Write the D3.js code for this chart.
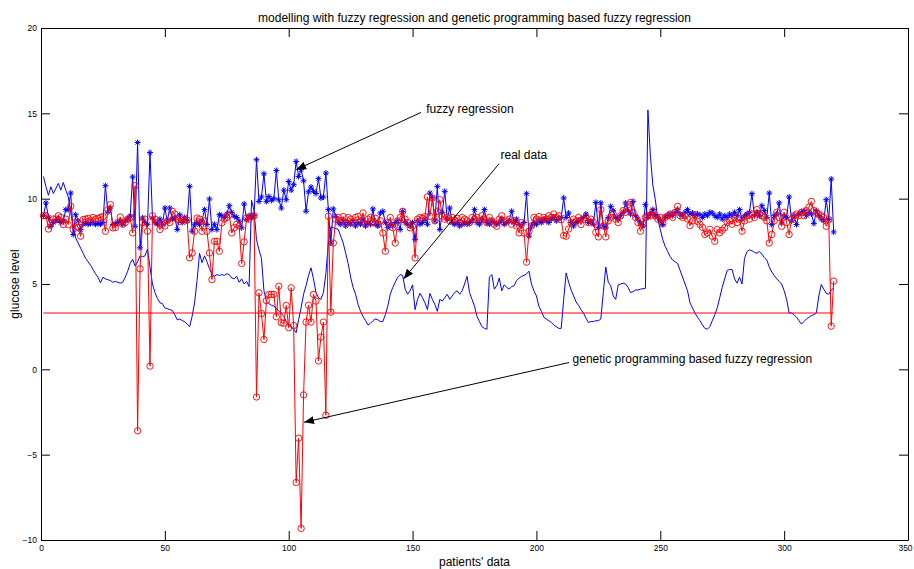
<!DOCTYPE html>
<html>
<head>
<meta charset="utf-8">
<script src="https://cdn.jsdelivr.net/npm/d3@7"></script>
<style>
  body { margin: 0; background: #fff; }
  text { font-family: "Liberation Sans", Arial, Helvetica, sans-serif; }
</style>
</head>
<body>
<svg id="chart" width="914" height="569"></svg>
<script>
// patient index 1..320
const patients = d3.range(1, 321);

// real glucose level (plain blue line)
const realData = [
  11.3, 10.7, 10.2, 10.7, 10.3, 10.6, 10.9, 10.5, 10.95, 10.5,
  10.1, 9.2, 8.4, 7.7, 7.4, 7.1, 6.8, 6.5, 6.3, 6.1,
  5.85, 5.6, 5.4, 5.07, 5.4, 5.3, 5.25, 5.2, 5.1, 5.15,
  5.1, 5.05, 5.1, 5.4, 5.75, 6.2, 6.45, 6.05, 6.3, 6.65,
  6.6, 6.65, 7.05, 6.0, 5.0, 4.5, 4.15, 3.9, 3.85, 3.6,
  3.55, 3.5, 3.45, 3.2, 2.9, 2.95, 2.85, 2.8, 2.65, 2.5,
  3.1, 3.9, 5.2, 6.8, 6.25, 6.65, 6.3, 5.9, 5.6, 5.45,
  5.55, 5.5, 5.55, 5.5, 5.6, 5.55, 5.35, 5.3, 5.45, 5.1,
  5.3, 5.0, 5.15, 4.85, 9.9, 9.3, 7.6, 7.0, 6.5, 4.6,
  4.0, 3.85, 3.75, 3.7, 3.6, 3.4, 3.3, 3.1, 2.8, 2.6,
  2.5, 2.35, 2.15, 2.9, 3.6, 4.4, 4.9, 5.5, 5.95, 5.3,
  4.5, 4.2, 4.1, 4.5, 5.6, 7.4, 8.35, 8.3, 8.25, 8.2,
  7.8, 7.4, 6.8, 6.2, 5.4, 4.8, 4.4, 3.8, 3.4, 3.1,
  2.85, 2.6, 2.7, 2.85, 2.95, 2.9, 2.8, 2.8, 3.2, 3.7,
  4.4, 4.8, 5.1, 5.4, 5.55, 5.5, 4.7, 4.4, 4.6, 4.95,
  3.5, 4.1, 4.45, 4.2, 3.9, 3.5, 4.45, 4.1, 3.8, 3.4,
  4.1, 4.0, 4.2, 4.4, 4.1, 4.3, 4.5, 4.6, 4.4, 4.6,
  5.0, 5.45, 4.5, 4.1, 3.7, 3.1, 2.8, 2.5, 2.4, 2.35,
  5.4, 5.55, 4.7, 4.9, 5.35, 4.6, 4.95, 4.8, 4.7, 4.85,
  4.9, 5.2, 5.35, 5.45, 5.5, 5.6, 5.75, 5.0, 4.6, 4.3,
  3.7, 3.4, 3.05, 2.95, 2.85, 2.75, 2.6, 2.5, 2.4, 2.4,
  4.1, 5.65, 5.1, 4.65, 4.3, 3.95, 3.75, 3.5, 3.3, 3.0,
  2.75, 2.8, 2.8, 2.85, 2.85, 2.95, 4.5, 6.0, 5.1, 4.9,
  4.3, 4.1, 4.95, 5.0, 5.05, 5.0, 4.8, 4.5, 4.55, 4.65,
  4.65, 4.7, 4.72, 4.75, 15.2, 12.5, 10.8, 9.94, 8.8, 8.2,
  7.6, 7.2, 6.9, 6.6, 6.4, 6.3, 6.2, 5.8, 5.4, 5.0,
  4.6, 3.9, 3.6, 3.3, 3.05, 2.85, 2.6, 2.4, 2.35, 2.5,
  2.85, 3.2, 3.6, 4.2, 4.8, 5.3, 5.8, 5.85, 5.85, 5.3,
  5.05, 5.4, 5.0, 6.5, 6.9, 7.0, 6.95, 6.85, 6.8, 6.9,
  6.75, 6.55, 6.4, 6.0, 5.7, 5.5, 5.3, 5.15, 5.0, 4.6,
  4.1, 3.3, 3.3, 3.2, 3.05, 2.85, 2.65, 2.8, 2.95, 3.05,
  3.15, 3.2, 3.3, 4.3, 4.97, 4.7, 4.45, 4.4, 4.65, 4.75
];

// fuzzy regression (blue, * markers)
const fuzzyData = [
  9.0, 9.75, 8.9, 8.38, 8.6, 8.7, 8.8, 8.6, 8.7, 9.36,
  9.36, 10.33, 7.9, 9.06, 8.7, 8.19, 8.5, 8.6, 8.5, 8.55,
  8.6, 8.5, 8.55, 8.5, 8.6, 10.76, 9.2, 9.45, 8.48, 8.5,
  8.6, 8.7, 8.5, 8.7, 8.8, 8.97, 11.27, 8.38, 13.29, 7.12,
  8.87, 8.6, 8.5, 12.7, 8.87, 8.6, 8.5, 8.8, 8.5, 9.45,
  8.7, 9.45, 8.8, 8.9, 8.19, 9.06, 8.6, 8.9, 8.7, 10.72,
  8.09, 8.5, 8.6, 8.48, 8.7, 9.36, 8.48, 9.98, 8.19, 8.5,
  8.19, 9.06, 9.0, 8.9, 9.1, 9.59, 9.2, 8.97, 8.9, 8.68,
  8.29, 9.69, 8.77, 9.0, 8.9, 9.0, 12.28, 9.84, 10.1, 11.46,
  9.84, 10.13, 9.9, 10.0, 11.65, 9.94, 9.45, 10.5, 9.94, 11.01,
  10.5, 10.82, 12.18, 11.3, 11.7, 11.05, 9.26, 10.4, 10.68, 10.43,
  10.3, 11.17, 10.04, 10.1, 11.5, 9.36, 7.4, 9.4, 8.97, 8.6,
  8.5, 8.7, 8.4, 8.6, 8.5, 8.7, 8.4, 8.6, 8.5, 8.8,
  8.4, 8.6, 8.5, 9.4, 8.5, 8.4, 9.16, 9.26, 8.6, 8.3,
  8.5, 8.4, 8.6, 8.7, 8.19, 9.26, 8.6, 8.5, 8.4, 8.6,
  7.6, 8.7, 8.5, 8.6, 8.8, 8.5, 10.33, 10.04, 8.7, 10.72,
  8.19, 9.2, 10.43, 8.8, 9.45, 8.6, 8.5, 8.6, 8.4, 8.5,
  8.6, 8.5, 8.6, 8.7, 9.36, 8.6, 8.5, 8.7, 9.36, 8.6,
  8.5, 8.7, 8.6, 8.5, 8.6, 8.8, 8.5, 8.6, 8.7, 9.26,
  8.6, 8.8, 8.5, 8.4, 8.6, 10.29, 7.8, 8.4, 8.6, 8.5,
  8.7, 8.6, 8.8, 8.7, 8.6, 8.8, 8.9, 8.7, 8.8, 8.9,
  10.04, 8.9, 9.16, 8.6, 8.4, 8.6, 8.7, 8.8, 8.9, 9.1,
  8.6, 8.7, 8.5, 9.78, 8.29, 9.75, 8.4, 8.3, 8.9, 9.55,
  9.3, 8.9, 8.8, 9.0, 9.2, 9.75, 9.3, 9.1, 9.84, 9.0,
  8.8, 8.58, 8.4, 9.65, 8.9, 9.1, 9.36, 9.0, 8.9, 8.7,
  8.48, 8.9, 9.0, 9.1, 9.0, 9.2, 9.36, 9.1, 9.0, 9.2,
  9.36, 9.1, 9.16, 9.0, 9.1, 9.06, 8.9, 9.1, 9.0, 9.2,
  9.16, 9.0, 8.9, 9.1, 8.8, 9.0, 8.9, 9.1, 9.0, 9.2,
  9.0, 9.36, 8.8, 9.0, 9.1, 9.2, 10.29, 9.0, 9.2, 9.0,
  9.59, 9.3, 8.9, 10.33, 8.48, 9.0, 9.1, 9.75, 8.58, 9.0,
  8.9, 10.1, 8.7, 9.0, 8.48, 9.1, 9.2, 9.3, 9.0, 9.2,
  9.1, 8.54, 9.3, 9.0, 8.8, 8.7, 9.94, 8.77, 11.15, 8.05
];

// genetic programming based fuzzy regression (red, o markers)
const gpData = [
  9.0, 9.0, 8.22, 8.6, 8.81, 8.8, 9.0, 8.9, 8.48, 8.8,
  8.48, 9.55, 8.19, 8.6, 8.3, 7.8, 8.77, 8.8, 8.85, 8.7,
  8.9, 8.8, 8.85, 8.9, 8.95, 8.09, 9.36, 9.65, 8.29, 8.3,
  8.6, 8.93, 8.5, 8.6, 8.8, 8.9, 7.99, 10.76, -3.6, 5.89,
  8.6, 8.8, 8.09, 0.19, 9.0, 8.8, 8.6, 8.19, 8.5, 8.4,
  8.7, 8.6, 9.26, 9.1, 8.8, 8.67, 8.8, 8.7, 8.75, 6.53,
  6.82, 8.09, 8.87, 8.8, 8.09, 8.7, 8.09, 6.82, 5.26, 7.5,
  7.5, 6.92, 8.58, 8.8, 8.9, 9.06, 7.99, 8.3, 8.5, 8.4,
  6.2, 7.47, 8.87, 8.8, 8.97, 9.0, -1.62, 4.48, 3.27, 1.75,
  4.03, 4.39, 4.39, 4.39, 3.08, 4.87, 2.73, 2.7, 3.74, 2.44,
  4.78, 2.57, -6.63, -4.04, -9.32, -1.5, 2.77, 3.76, 2.77, 4.39,
  4.0, 0.49, 1.89, 2.77, -2.69, 8.97, 3.35, 7.4, 8.8, 8.9,
  8.7, 8.95, 8.6, 8.9, 8.8, 8.6, 8.9, 8.95, 8.7, 9.16,
  8.5, 8.8, 8.9, 8.6, 8.85, 8.5, 8.7, 7.99, 6.92, 8.6,
  8.9, 8.3, 7.4, 8.7, 8.9, 9.26, 8.8, 8.6, 8.29, 8.4,
  6.53, 8.8, 8.9, 8.85, 8.95, 10.1, 8.97, 10.04, 8.7, 9.26,
  9.94, 8.97, 8.8, 8.9, 8.7, 8.9, 8.75, 8.85, 8.6, 8.9,
  8.8, 8.7, 8.6, 8.9, 8.8, 8.9, 8.7, 9.0, 8.8, 8.6,
  8.9, 8.7, 8.5, 8.38, 8.8, 9.0, 8.6, 8.7, 8.8, 8.5,
  8.7, 8.4, 7.99, 8.6, 7.99, 6.28, 8.09, 8.4, 8.9, 8.8,
  8.95, 8.7, 8.9, 8.8, 9.0, 8.9, 9.1, 8.9, 9.0, 8.77,
  7.84, 7.8, 8.22, 8.6, 8.8, 8.7, 8.9, 8.48, 8.8, 8.9,
  8.6, 8.8, 8.6, 8.03, 7.76, 9.36, 8.4, 7.76, 8.7, 8.9,
  9.1, 8.8, 8.6, 9.0, 9.3, 9.2, 9.65, 9.78, 9.2, 8.9,
  8.6, 8.09, 8.5, 8.9, 9.0, 9.0, 9.26, 9.0, 8.8, 8.9,
  8.54, 8.9, 9.0, 9.1, 8.9, 9.2, 9.55, 9.0, 8.9, 9.0,
  8.8, 8.42, 8.7, 9.06, 8.67, 8.5, 8.32, 7.9, 7.99, 8.2,
  7.8, 7.5, 8.19, 8.0, 8.15, 8.3, 8.6, 8.7, 8.5, 8.9,
  8.6, 8.8, 8.09, 8.7, 9.0, 8.8, 9.1, 8.9, 9.36, 9.1,
  9.0, 8.9, 8.7, 7.4, 7.9, 8.7, 9.2, 8.9, 8.38, 9.2,
  8.6, 7.9, 8.8, 9.0, 9.1, 9.0, 9.2, 9.0, 9.3, 9.5,
  9.84, 9.3, 9.2, 9.1, 9.0, 8.9, 8.38, 8.77, 2.53, 5.17
];

// constant red level
const gpLevel = 3.3;

const xTicks = [0, 50, 100, 150, 200, 250, 300, 350];
const yTicks = [-10, -5, 0, 5, 10, 15, 20];

// annotations, in data units: label position and arrow from -> to
const notes = [
  { label: "fuzzy regression", lx: 155.5, ly: 15.0, fx: 153.4, fy: 15.05, tx: 103.0, ty: 11.7 },
  { label: "real data", lx: 185.5, ly: 12.3, fx: 184.9, fy: 12.05, tx: 146.4, ty: 5.3 },
  { label: "genetic programming based fuzzy regression", lx: 214.6, ly: 0.4, fx: 213.2, fy: 0.4, tx: 106.2, ty: -3.1 }
];

const W = 914, H = 569;
const margin = { top: 28, right: 6, bottom: 29, left: 41 };

const svg = d3.select('#chart');

const x = d3.scaleLinear().domain([0, 350]).range([margin.left, W - margin.right]);
const y = d3.scaleLinear().domain([-10, 20]).range([H - margin.bottom, margin.top]);

svg.append('defs').append('marker')
    .attr('id', 'head')
    .attr('markerUnits', 'userSpaceOnUse')
    .attr('viewBox', '0 0 10 8')
    .attr('refX', 10).attr('refY', 4)
    .attr('markerWidth', 10).attr('markerHeight', 8)
    .attr('orient', 'auto')
    .append('path')
    .attr('d', 'M0,0L10,4L0,8Z')
    .attr('fill', '#000');

const plot = svg.append('g');

// real data
plot.append('path')
    .datum(realData)
    .attr('fill', 'none')
    .attr('stroke', '#0000ff')
    .attr('stroke-width', 1)
    .attr('d', d3.line().x((d, i) => x(patients[i])).y(d => y(d)));

// fuzzy regression
plot.append('path')
    .datum(fuzzyData)
    .attr('fill', 'none')
    .attr('stroke', '#0000ff')
    .attr('stroke-width', 1)
    .attr('d', d3.line().x((d, i) => x(patients[i])).y(d => y(d)));

const star = 'M-3,0H3M0,-3V3M-2.1,-2.1L2.1,2.1M-2.1,2.1L2.1,-2.1';
plot.append('g').selectAll('path')
    .data(fuzzyData)
    .join('path')
    .attr('transform', (d, i) => 'translate(' + x(patients[i]) + ',' + y(d) + ')')
    .attr('d', star)
    .attr('stroke', '#0000ff')
    .attr('stroke-width', 1)
    .attr('fill', 'none');

// GP based fuzzy regression
plot.append('path')
    .datum(gpData)
    .attr('fill', 'none')
    .attr('stroke', '#ff0000')
    .attr('stroke-width', 1)
    .attr('d', d3.line().x((d, i) => x(patients[i])).y(d => y(d)));

plot.append('g').selectAll('circle')
    .data(gpData)
    .join('circle')
    .attr('cx', (d, i) => x(patients[i]))
    .attr('cy', d => y(d))
    .attr('r', 3.2)
    .attr('fill', 'none')
    .attr('stroke', '#ff0000')
    .attr('stroke-width', 0.9);

plot.append('line')
    .attr('x1', x(patients[0])).attr('x2', x(patients[patients.length - 1]))
    .attr('y1', y(gpLevel)).attr('y2', y(gpLevel))
    .attr('stroke', '#ff0000')
    .attr('stroke-width', 1);

// axes (box with inward ticks)
function styleAxis(g) {
    g.selectAll('.domain').attr('stroke', '#000').attr('stroke-width', 1);
    g.selectAll('.tick line').attr('stroke', '#000');
    g.selectAll('text').attr('font-size', 8.5).attr('fill', '#000')
        .attr('font-family', '"Liberation Sans", Arial, sans-serif');
}

const xAxisG = svg.append('g')
    .attr('transform', 'translate(0,' + (H - margin.bottom) + ')')
    .call(d3.axisBottom(x).tickValues(xTicks).tickSizeInner(-9).tickSizeOuter(0).tickPadding(5))
    .call(styleAxis);
// keep the last label inside the window
xAxisG.selectAll('.tick text').filter(d => d === 350).attr('dx', -3);

svg.append('g')
    .attr('transform', 'translate(0,' + margin.top + ')')
    .call(d3.axisTop(x).tickValues(xTicks).tickSizeInner(-9).tickSizeOuter(0).tickFormat(''))
    .call(styleAxis);

svg.append('g')
    .attr('transform', 'translate(' + margin.left + ',0)')
    .call(d3.axisLeft(y).tickValues(yTicks).tickSizeInner(-9).tickSizeOuter(0).tickPadding(4))
    .call(styleAxis);

svg.append('g')
    .attr('transform', 'translate(' + (W - margin.right) + ',0)')
    .call(d3.axisRight(y).tickValues(yTicks).tickSizeInner(-9).tickSizeOuter(0).tickFormat(''))
    .call(styleAxis);

// annotations
const ann = svg.append('g');
notes.forEach(n => {
    ann.append('line')
        .attr('x1', x(n.fx)).attr('y1', y(n.fy))
        .attr('x2', x(n.tx)).attr('y2', y(n.ty))
        .attr('stroke', '#000')
        .attr('stroke-width', 1)
        .attr('marker-end', 'url(#head)');
    ann.append('text')
        .attr('x', x(n.lx)).attr('y', y(n.ly))
        .attr('font-size', 12)
        .attr('fill', '#000')
        .text(n.label);
});

// title and labels
const cx = (margin.left + W - margin.right) / 2;
svg.append('text')
    .attr('x', cx).attr('y', 22)
    .attr('text-anchor', 'middle')
    .attr('font-size', 12)
    .text('modelling with fuzzy regression and genetic programming based fuzzy regression');

svg.append('text')
    .attr('x', cx).attr('y', 566)
    .attr('text-anchor', 'middle')
    .attr('font-size', 12)
    .text("patients' data");

svg.append('text')
    .attr('transform', 'translate(19,' + y(5) + ') rotate(-90)')
    .attr('text-anchor', 'middle')
    .attr('font-size', 12)
    .text('glucose level');
</script>
</body>
</html>
